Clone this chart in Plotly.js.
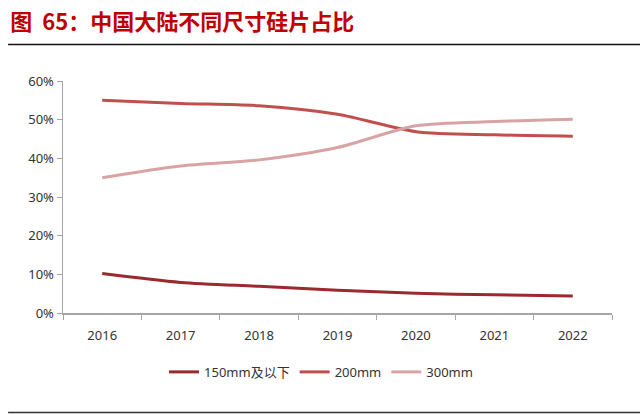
<!DOCTYPE html>
<html><head><meta charset="utf-8">
<script src="https://cdn.plot.ly/plotly-3.0.1.min.js"></script>
<style>body{margin:0;padding:0;background:#fff}#chart{width:640px;height:414px}</style>
</head><body><div id="chart"></div>
<script>
const years = ['2016','2017','2018','2019','2020','2021','2022'];
const s150 = [0.102,0.079,0.069,0.059,0.051,0.047,0.044];
const s200 = [0.550,0.542,0.536,0.514,0.469,0.461,0.457];
const s300 = [0.350,0.380,0.396,0.428,0.484,0.495,0.501];
const names = ['150mm及以下','200mm','300mm'];
const colors = ['#9A2A2E','#C0504D','#D9A3A3'];
const yTicks = [0,0.1,0.2,0.3,0.4,0.5,0.6];
const yTickText = ['0%','10%','20%','30%','40%','50%','60%'];

const series = [s150,s200,s300];
const traces = series.map((s,i)=>({
  x: years, y: s, name: names[i], type:'scatter', mode:'lines',
  line:{color:colors[i], width:3, shape:'spline', smoothing:0.8},
  hoverinfo:'skip'
}));

const font = "'Noto Sans', 'Noto Sans CJK SC', sans-serif";
const layout = {
  width:640, height:414,
  margin:{l:63, r:28, t:81, b:101},
  paper_bgcolor:'#fff', plot_bgcolor:'#fff',
  font:{family:font, color:'#333', size:12},
  title:{text:'<b>图  65：中国大陆不同尺寸硅片占比</b>', x:0.016, xanchor:'left', y:0.945, yanchor:'middle',
    font:{family:"'Noto Sans CJK SC', sans-serif", size:22, color:'#C00000'}},
  xaxis:{type:'category', range:[-0.5,6.5], showline:true, linecolor:'#A6A6A6', linewidth:1.5,
    ticks:'outside', tickson:'boundaries', ticklen:5, tickcolor:'#A6A6A6', tickwidth:1,
    ticklabelstandoff:10,
    showgrid:false, zeroline:false, tickfont:{size:13, color:'#333'}, fixedrange:true},
  yaxis:{range:[0,0.6], tickvals:yTicks, ticktext:yTickText, showline:true, linecolor:'#A6A6A6', linewidth:1.5,
    ticks:'outside', ticklen:5, tickcolor:'#A6A6A6', showgrid:false, zeroline:false,
    tickfont:{size:13, color:'#333'}, fixedrange:true},
  showlegend:true,
  legend:{orientation:'h', x:0.47, xanchor:'center', y:-0.254, yanchor:'middle',
    font:{size:13, color:'#333'}, itemwidth:30, tracegroupgap:0, traceorder:'normal'},
  shapes:[
    {type:'line', xref:'paper', yref:'paper', x0:-0.1, x1:1.06, y0:(414-44.5-101)/232, y1:(414-44.5-101)/232,
      line:{color:'#111', width:1.5}},
    {type:'line', xref:'paper', yref:'paper', x0:-0.1, x1:1.06, y0:(414-412.5-101)/232, y1:(414-412.5-101)/232,
      line:{color:'#333', width:1.5}}
  ]
};
Plotly.newPlot('chart', traces, layout, {displayModeBar:false, staticPlot:true});
</script></body></html>
